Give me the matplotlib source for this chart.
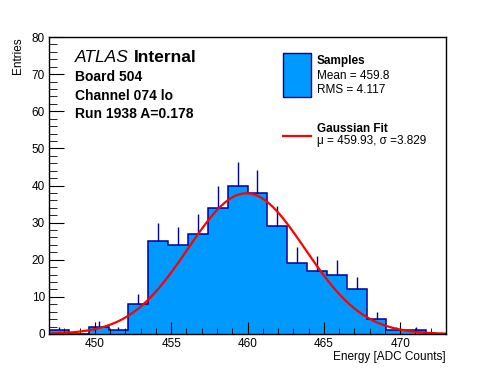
import numpy as np
import matplotlib.pyplot as plt
from matplotlib.patches import Rectangle
from matplotlib.lines import Line2D
from matplotlib.ticker import MultipleLocator

plt.rcParams['font.family'] = ['Liberation Sans', 'DejaVu Sans']

# histogram contents (20 bins from 447 to 473)
bin_edges = np.linspace(447, 473, 21)
counts = np.array([1, 0, 2, 1, 8, 25, 24, 27, 34, 40, 38, 29, 19, 17, 16, 12, 4, 1, 1, 0])

# gaussian fit
fit_const = 37.9
fit_mu = 459.93
fit_sigma = 3.829

W, H = 496, 372
fig = plt.figure(figsize=(W / 100, H / 100), dpi=100)
ax = fig.add_axes([49 / W, 1 - 334 / H, (446 - 49) / W, (334 - 37) / H])

fill_col = '#0099ff'
edge_col = '#000099'

ax.stairs(counts, bin_edges, fill=True, facecolor=fill_col, edgecolor='none')
ax.stairs(counts, bin_edges, baseline=0, color=edge_col, linewidth=1.1)

centers = 0.5 * (bin_edges[:-1] + bin_edges[1:])
m = counts > 0
ax.vlines(centers[m], counts[m], counts[m] + np.sqrt(counts[m]), color=edge_col, linewidth=1.0)

xx = np.linspace(447, 473, 500)
ax.plot(xx, fit_const * np.exp(-0.5 * ((xx - fit_mu) / fit_sigma) ** 2), color='red', linewidth=1.6)

ax.set_xlim(447, 473)
ax.set_ylim(0, 80)
ax.xaxis.set_major_locator(MultipleLocator(5))
ax.xaxis.set_minor_locator(MultipleLocator(1))
ax.yaxis.set_major_locator(MultipleLocator(10))
ax.yaxis.set_minor_locator(MultipleLocator(2))
ax.tick_params(which='both', direction='in', top=False, right=False, labelsize=8.5, pad=3)
ax.tick_params(axis='x', which='major', length=9)
ax.tick_params(axis='x', which='minor', length=4.5)
ax.tick_params(axis='y', which='major', length=11)
ax.tick_params(axis='y', which='minor', length=5.5)
for s in ax.spines.values():
    s.set_linewidth(1.0)

fig.text(446 / W, 1 - 357 / H, 'Energy [ADC Counts]', ha='right', va='center', fontsize=8.5)
fig.text(18 / W, 1 - 37 / H, 'Entries', ha='center', va='top', rotation=90, fontsize=8.5)

# labels
fig.text(75 / W, 1 - 58 / H, 'ATLAS', style='italic', fontsize=12.5, va='center')
fig.text(134 / W, 1 - 58 / H, 'Internal', weight='bold', fontsize=12.5, va='center')
fig.text(75 / W, 1 - 77 / H, 'Board 504', weight='bold', fontsize=10, va='center')
fig.text(75 / W, 1 - 96 / H, 'Channel 074 lo', weight='bold', fontsize=10, va='center')
fig.text(75 / W, 1 - 114 / H, 'Run 1938 A=0.178', weight='bold', fontsize=10, va='center')

# legend
fig.add_artist(Rectangle((283 / W, 1 - 97 / H), 28 / W, 44 / H, transform=fig.transFigure,
                         facecolor=fill_col, edgecolor=edge_col, linewidth=1.0))
fig.add_artist(Line2D([283 / W, 311 / W], [1 - 136 / H, 1 - 136 / H], transform=fig.transFigure,
                      color='red', linewidth=1.6))
fig.text(317 / W, 1 - 61 / H, 'Samples', weight='bold', fontsize=8.5, va='center')
fig.text(317 / W, 1 - 76 / H, 'Mean = 459.8', fontsize=8.5, va='center')
fig.text(317 / W, 1 - 90 / H, 'RMS = 4.117', fontsize=8.5, va='center')
fig.text(317 / W, 1 - 129 / H, 'Gaussian Fit', weight='bold', fontsize=8.5, va='center')
fig.text(317 / W, 1 - 141 / H, '\u03bc = 459.93, \u03c3 =3.829', fontsize=8.5, va='center')

fig.savefig('out.png', dpi=100)
